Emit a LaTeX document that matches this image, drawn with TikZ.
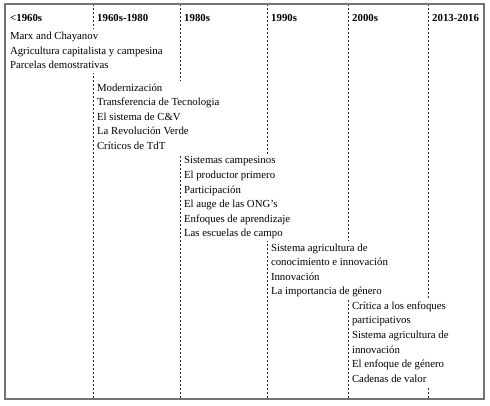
\documentclass[tikz,border=0pt]{standalone}
\usepackage{fontspec}
\setmainfont{Liberation Serif}
\usetikzlibrary{positioning,calc}

\begin{document}
\begin{tikzpicture}[x=1pt,y=1pt,
  era/.style={draw=black!85, line width=0.8pt, dash pattern=on 2.5pt off 1.5pt},
  head/.style={font=\fontsize{10.8}{13}\selectfont\bfseries, anchor=base west, inner sep=0pt},
  items/.style={font=\fontsize{10.8}{14.55}\selectfont, align=left, anchor=north west,
    fill=white, inner xsep=3pt, inner ysep=0pt, outer sep=0pt,
    execute at end node=\strut}]
\useasboundingbox (0,0) rectangle (490,406);
% Period lines
\coordinate (c0) at (5,402);
\coordinate (bot) at (5,7);
\foreach \name/\x in {c1/93,c2/180,c3/267,c4/348,c5/428}{
  \coordinate (\name) at (\x,402);
  \draw[era] (\name) -- (\name |- bot);
}
% Periods
\node[head] (h0) at ($(c0)+(5,-18)$) {<1960s};
\node[head] (h1) at ($(c1)+(4,-18)$) {1960s-1980};
\node[head] (h2) at ($(c2)+(4,-18)$) {1980s};
\node[head] (h3) at ($(c3)+(4,-18)$) {1990s};
\node[head] (h4) at ($(c4)+(4,-18)$) {2000s};
\node[head] (h5) at ($(c5)+(4,-18)$) {2013-2016};
% Topics
\node[items] (b0) at ($(c0)+(2,-25.5)$) {\strut Marx and Chayanov\\Agricultura capitalista y campesina\\Parcelas demostrativas};
\node[items] (b1) at ($(c1)+(1,-77)$) {\strut Modernización\\Transferencia de Tecnologia\\El sistema de C\&V\\La Revolución Verde\\Críticos de TdT};
\node[items] (b2) at ($(c2 |- b1.south)+(1,0)$) {\strut Sistemas campesinos\\El productor primero\\Participación\\El auge de las ONG’s\\Enfoques de aprendizaje\\Las escuelas de campo};
\node[items] (b3) at ($(c3 |- b2.south)+(1,0)$) {\strut Sistema agricultura de\\conocimiento e innovación\\Innovación\\La importancia de género};
\node[items] (b4) at ($(c4 |- b3.south)+(1,0)$) {\strut Crítica a los enfoques\\participativos\\Sistema agricultura de\\innovación\\El enfoque de género\\Cadenas de valor};
% Frame
\draw[line width=1.5pt, draw=black!55] (bot) rectangle (484,402);
\end{tikzpicture}
\end{document}
